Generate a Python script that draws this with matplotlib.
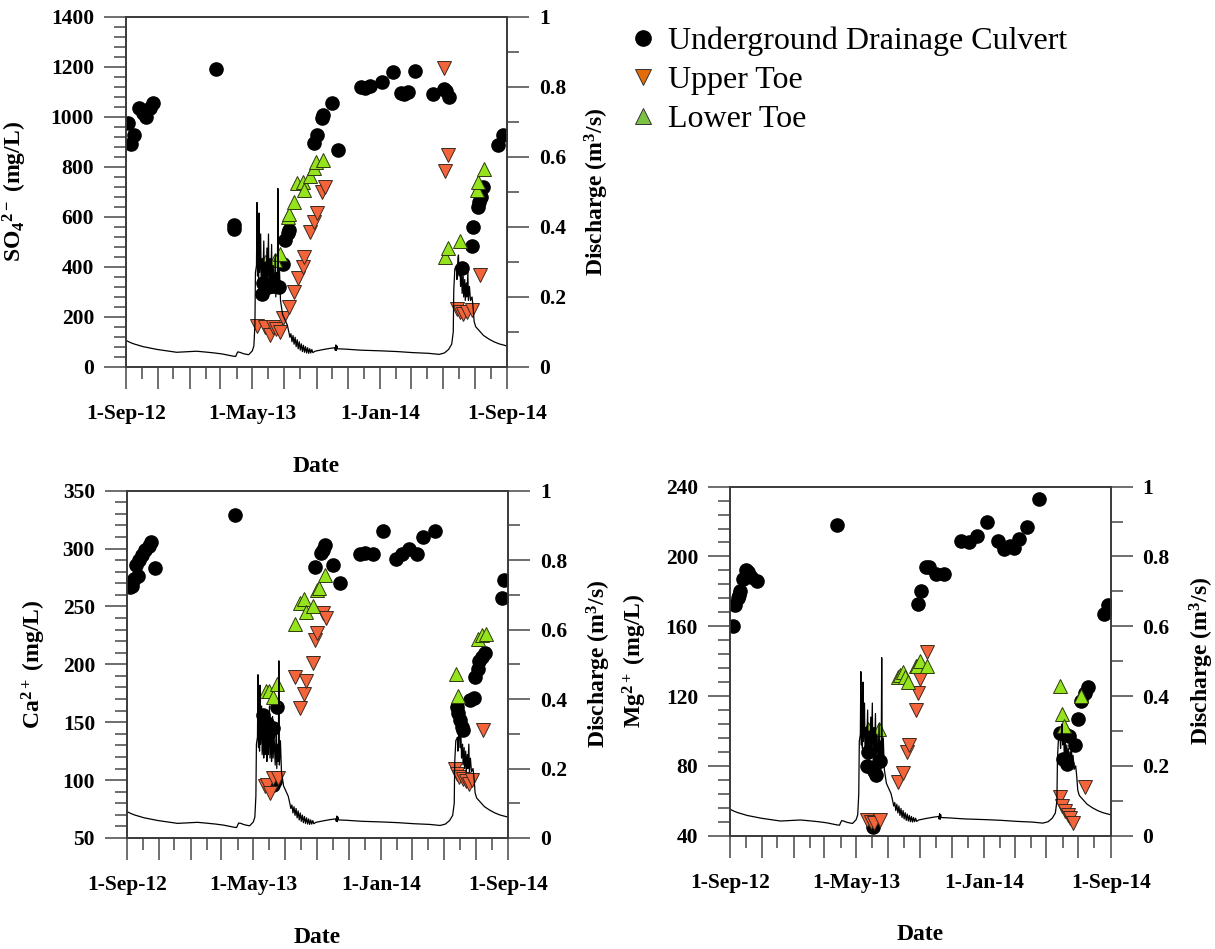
import numpy as np
import pandas as pd
import matplotlib
matplotlib.use('Agg')
import matplotlib.pyplot as plt
import matplotlib.dates as mdates
from matplotlib.lines import Line2D
from matplotlib.ticker import MultipleLocator, FuncFormatter

plt.rcParams['font.family'] = 'Liberation Serif'
plt.rcParams['font.weight'] = 'bold'
plt.rcParams['axes.labelweight'] = 'bold'
plt.rcParams['mathtext.fontset'] = 'custom'
plt.rcParams['mathtext.rm'] = 'Liberation Serif:bold'
plt.rcParams['mathtext.it'] = 'Liberation Serif:bold'
plt.rcParams['mathtext.bf'] = 'Liberation Serif:bold'

# days counted from 1-Sep-2012
start = pd.Timestamp('2012-09-01')
end = pd.Timestamp('2014-09-01')

# discharge (m3/s)
q_day = [0, 8, 15, 33, 60, 97, 122, 135, 150, 170, 185, 195, 205, 210, 214, 218, 225, 235,
         242, 245, 247, 248, 250, 251, 252, 253, 254, 255, 256, 258, 259, 261, 262, 264, 265,
         267, 268, 270, 271, 273, 274, 276, 277, 279, 280, 282, 284, 286, 287, 289, 290, 291,
         292, 294, 296, 298, 300, 303, 306, 309, 312, 314, 316, 318, 320, 322, 324, 326, 328,
         330, 332, 334, 336, 338, 340, 342, 344, 346, 348, 350, 352, 354, 356, 358, 362, 375,
         390, 400, 401, 402, 403, 404, 405, 420, 450, 490, 520, 550, 580, 600, 610, 618, 624,
         627, 628, 630, 633, 634, 636, 637, 638, 640, 641, 643, 644, 646, 647, 649, 650, 652,
         653, 655, 656, 658, 660, 663, 665, 667, 670, 676, 685, 695, 705, 715, 725, 730]
q = [0.076, 0.070, 0.066, 0.058, 0.050, 0.042, 0.044, 0.045, 0.043, 0.040, 0.037, 0.034,
     0.031, 0.030, 0.043, 0.042, 0.038, 0.035, 0.046, 0.060, 0.12, 0.27, 0.29, 0.47, 0.26,
     0.41, 0.25, 0.44, 0.27, 0.38, 0.24, 0.31, 0.23, 0.36, 0.24, 0.30, 0.22, 0.34, 0.24,
     0.38, 0.23, 0.31, 0.22, 0.35, 0.23, 0.29, 0.21, 0.32, 0.20, 0.27, 0.22, 0.51, 0.21,
     0.28, 0.19, 0.17, 0.15, 0.14, 0.13, 0.12, 0.10, 0.085, 0.095, 0.072, 0.090, 0.065,
     0.085, 0.058, 0.078, 0.052, 0.072, 0.048, 0.066, 0.044, 0.062, 0.042, 0.058, 0.040,
     0.055, 0.039, 0.052, 0.040, 0.050, 0.041, 0.045, 0.049, 0.053, 0.055, 0.048, 0.063,
     0.047, 0.060, 0.052, 0.051, 0.048, 0.046, 0.044, 0.041, 0.039, 0.036, 0.040, 0.050,
     0.065, 0.10, 0.22, 0.28, 0.29, 0.25, 0.31, 0.32, 0.26, 0.29, 0.23, 0.27, 0.21, 0.26,
     0.20, 0.25, 0.19, 0.24, 0.20, 0.27, 0.19, 0.23, 0.19, 0.20, 0.17, 0.13, 0.115, 0.105,
     0.090, 0.080, 0.072, 0.066, 0.062, 0.060]

# SO4 (mg/L)
so4_udc_day = [4, 9, 15, 24, 33, 38, 46, 52, 172, 206, 207, 261, 263, 268, 273, 280, 287, 294,
               301, 305, 310, 312, 360, 366, 375, 378, 394, 407, 451, 458, 467, 490, 512, 526,
               533, 541, 554, 589, 609, 613, 618, 643, 662, 665, 674, 677, 680, 684, 713, 722]
so4_udc = [975, 892, 928, 1035, 1015, 1001, 1035, 1055, 1192, 568, 550, 292, 335, 322, 320,
           325, 322, 320, 412, 508, 535, 548, 895, 928, 995, 1008, 1057, 868, 1118, 1115, 1122,
           1140, 1178, 1095, 1093, 1098, 1182, 1090, 1110, 1102, 1078, 395, 483, 561, 641, 661,
           681, 721, 888, 928]
so4_ut_day = [251, 266, 275, 282, 287, 295, 301, 312, 321, 329, 339, 341, 353, 360, 365, 375,
              381, 609, 611, 616, 634, 640, 646, 654, 662, 678]
so4_ut = [163, 161, 128, 161, 152, 141, 195, 241, 301, 355, 401, 441, 541, 581, 615, 701, 721,
          1195, 785, 848, 233, 220, 213, 220, 226, 368]
so4_lt_day = [266, 285, 296, 310, 312, 321, 327, 340, 341, 353, 360, 364, 378, 611, 616, 639,
              672, 675, 685]
so4_lt = [421, 428, 452, 601, 612, 661, 735, 741, 708, 765, 795, 821, 828, 441, 475, 504, 708,
          741, 792]

# Ca (mg/L)
ca_udc_day = [6, 10, 13, 17, 21, 24, 29, 34, 43, 46, 54, 207, 261, 263, 268, 271, 274, 280,
              287, 279, 284, 360, 371, 376, 380, 395, 409, 446, 457, 472, 490, 516, 527, 541,
              556, 567, 591, 633, 635, 638, 641, 644, 657, 664, 667, 672, 675, 680, 686, 718, 723]
ca_udc = [267, 268, 274, 286, 276, 290, 294, 299, 302, 306, 283, 329, 156, 145, 149, 140, 145,
          145, 163, 96, 99, 284, 296, 299, 303, 286, 270, 295, 296, 295, 315, 291, 295, 300, 295,
          310, 315, 163, 158, 152, 146, 143, 169, 171, 189, 196, 203, 206, 210, 257, 273]
ca_ut_day = [264, 269, 274, 279, 290, 321, 332, 340, 343, 357, 360, 365, 376, 382, 629, 633,
             637, 644, 650, 655, 662, 682]
ca_ut = [95, 96, 89, 102, 102, 189, 162, 174, 186, 201, 221, 227, 244, 240, 110, 105, 103,
         101, 99, 97, 100, 143]
ca_lt_day = [266, 273, 279, 288, 321, 332, 340, 343, 357, 364, 367, 379, 630, 635, 673, 680, 687]
ca_lt = [177, 177, 172, 183, 235, 253, 256, 245, 250, 264, 266, 277, 192, 173, 222, 225, 226]

# Mg (mg/L)
mg_udc_day = [5, 10, 15, 17, 20, 25, 30, 34, 40, 52, 205, 262, 265, 268, 273, 277, 281, 286,
              288, 275, 361, 366, 376, 382, 396, 411, 443, 458, 473, 492, 514, 525, 537, 544,
              554, 570, 592, 633, 639, 642, 646, 650, 662, 668, 674, 681, 687, 717, 725]
mg_udc = [160, 172, 176, 178, 180, 187, 192, 191, 188, 186, 218, 80, 88, 89, 79, 77, 75, 83,
          83, 45, 173, 180, 194, 194, 190, 190, 209, 208, 212, 220, 209, 204, 206, 205, 210,
          217, 233, 99, 84, 98, 81, 97, 92, 107, 117, 122, 125, 167, 172]
mg_ut_day = [262, 270, 277, 288, 323, 331, 339, 344, 357, 361, 364, 378, 632, 636, 643, 649,
             653, 658, 681]
mg_ut = [49, 48, 47, 49, 71, 76, 88, 92, 112, 122, 130, 145, 62, 57, 54, 52, 50, 47, 68]
mg_lt_day = [265, 280, 286, 322, 326, 331, 336, 342, 356, 358, 364, 378, 633, 636, 641, 674]
mg_lt = [101, 95, 101, 131, 132, 134, 131, 128, 137, 137, 140, 137, 126, 110, 103, 120]


def to_dates(days):
    return start + pd.to_timedelta(days, unit='D')


label_dates = ['2012-09-01', '2013-05-01', '2014-01-01', '2014-09-01']


def date_label(x, pos):
    d = mdates.num2date(x)
    if d.strftime('%Y-%m-%d') in label_dates:
        return '1-' + d.strftime('%b-%y')
    return ''


spine_col = '#3a3a3a'
orange = '#F4643A'
green = '#94E31C'

fig = plt.figure(figsize=(12.15, 9.49), dpi=100)


def panel(rect, udc_d, udc, ut_d, ut, lt_d, lt, ylim, major, minor, ylabel, ylab_x, q_lab_x,
          date_y):
    ax = fig.add_axes(rect)
    ax2 = ax.twinx()

    ax.plot(to_dates(udc_d), udc, 'o', color='black', ms=9.5, mec='black', zorder=3)
    ax.plot(to_dates(ut_d), ut, 'v', color=orange, ms=9.5, mec='#3a2a20', mew=0.7, zorder=4)
    ax.plot(to_dates(lt_d), lt, '^', color=green, ms=9.5, mec='#2e3a10', mew=0.7, zorder=4)
    ax2.plot(to_dates(q_day), q, color='black', lw=0.9)

    ax.set_xlim(start, end)
    ax.set_ylim(*ylim)
    ax2.set_ylim(0, 1)

    ax.xaxis.set_major_locator(mdates.MonthLocator(bymonth=(1, 3, 5, 7, 9, 11)))
    ax.xaxis.set_minor_locator(mdates.MonthLocator())
    ax.xaxis.set_major_formatter(FuncFormatter(date_label))
    ax.yaxis.set_major_locator(MultipleLocator(major))
    ax.yaxis.set_minor_locator(MultipleLocator(minor))
    ax2.yaxis.set_major_locator(MultipleLocator(0.2))
    ax2.yaxis.set_minor_locator(MultipleLocator(0.1))
    ax2.yaxis.set_major_formatter(FuncFormatter(lambda v, p: f'{v:g}'))

    for a in (ax, ax2):
        a.tick_params(which='major', direction='out', length=16, width=1.2,
                      color='#555555', labelsize=15.5, pad=7)
        a.tick_params(which='minor', direction='out', length=8.5, width=1.2, color='#555555')
        for s in a.spines.values():
            s.set_color(spine_col)
            s.set_linewidth(1.2)
    ax.tick_params(axis='x', which='major', pad=11)

    ax.set_ylabel(ylabel, fontsize=17)
    ax.yaxis.set_label_coords(ylab_x, 0.5)
    ax2.set_ylabel(r'Discharge (m$^3$/s)', fontsize=17)
    ax2.yaxis.set_label_coords(q_lab_x, 0.5)
    ax.set_xlabel('Date', fontsize=17)
    ax.xaxis.set_label_coords(0.5, date_y)
    return ax


panel([0.1037, 0.6133, 0.3136, 0.3688], so4_udc_day, so4_udc, so4_ut_day, so4_ut,
      so4_lt_day, so4_lt, (0, 1400), 200, 40, r'SO$_4$$^{2-}$ (mg/L)', -0.255, 1.2, -0.255)
panel([0.1045, 0.1170, 0.3136, 0.3660], ca_udc_day, ca_udc, ca_ut_day, ca_ut,
      ca_lt_day, ca_lt, (50, 350), 50, 10, r'Ca$^{2+}$ (mg/L)', -0.207, 1.202, -0.255)
panel([0.6008, 0.1194, 0.3133, 0.3678], mg_udc_day, mg_udc, mg_ut_day, mg_ut,
      mg_lt_day, mg_lt, (40, 240), 40, 8, r'Mg$^{2+}$ (mg/L)', -0.213, 1.203, -0.252)

# legend in the empty top-right corner
handles = [Line2D([], [], ls='none', marker='o', color='black', ms=11),
           Line2D([], [], ls='none', marker='v', color='#E36C09', mec='#333333', mew=0.7, ms=11),
           Line2D([], [], ls='none', marker='^', color='#7CC242', mec='#333333', mew=0.7, ms=11)]
labels = ['Underground Drainage Culvert', 'Upper Toe', 'Lower Toe']
fig.legend(handles, labels, loc='upper left', bbox_to_anchor=(0.516, 0.972), frameon=False,
           prop={'family': 'Liberation Serif', 'weight': 'normal', 'size': 23},
           handlelength=1.0, handletextpad=0.28, labelspacing=0.30, borderaxespad=0,
           borderpad=0)

fig.savefig('out.png', dpi=100)
